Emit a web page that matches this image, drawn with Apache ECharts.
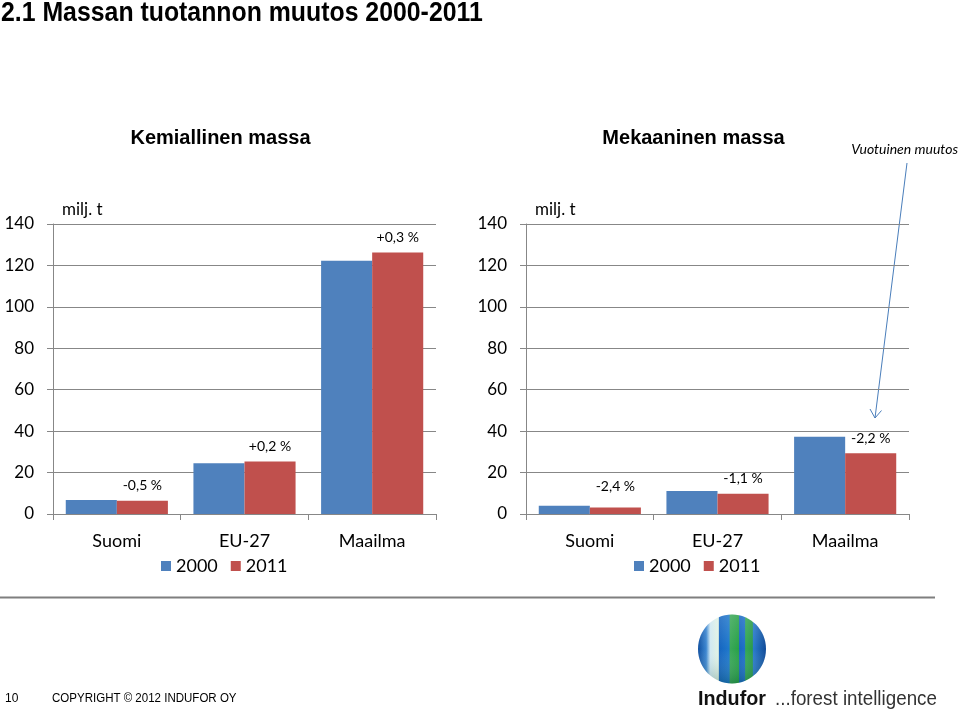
<!DOCTYPE html>
<html><head><meta charset="utf-8">
<script src="https://cdn.jsdelivr.net/npm/echarts@6/dist/echarts.min.js"></script>
<style>html,body{margin:0;padding:0;background:#fff}#c{width:960px;height:710px}</style>
</head><body><div id="c"></div>
<script>
const categories = ['Suomi', 'EU-27', 'Maailma'];
const yTicks = [0, 20, 40, 60, 80, 100, 120, 140];
const chem2000 = [6.8, 24.5, 122.3];
const chem2011 = [6.4, 25.3, 126.2];
const mech2000 = [4.0, 11.1, 37.3];
const mech2011 = [3.1, 9.8, 29.3];
const chemChange = ['-0,5 %', '+0,2 %', '+0,3 %'];
const mechChange = ['-2,4 %', '-1,1 %', '-2,2 %'];
const seriesNames = ['2000', '2011'];

const BLUE = '#4f81bd', RED = '#c0504d', GRID = '#878787';
const FONT = 'Lato, "Open Sans", sans-serif';

function xAx(gi) {
  return {
    type: 'category', gridIndex: gi, data: categories,
    axisLine: { lineStyle: { color: GRID } },
    axisTick: { show: true, length: 6, lineStyle: { color: GRID } },
    axisLabel: { color: '#000', fontSize: 18, fontFamily: FONT, margin: 18 }
  };
}
function yAx(gi) {
  return {
    type: 'value', gridIndex: gi, min: yTicks[0], max: yTicks[yTicks.length - 1], interval: 20,
    axisLine: { show: true, lineStyle: { color: GRID } },
    axisTick: { show: true, length: 6, lineStyle: { color: GRID } },
    splitLine: { lineStyle: { color: GRID, width: 1 } },
    axisLabel: { color: '#000', fontSize: 17, fontFamily: FONT, margin: 19 }
  };
}
function barSeries(name, gi, vals, color, changes, offsets) {
  const s = {
    name: name, type: 'bar', xAxisIndex: gi, yAxisIndex: gi,
    barGap: '0%', barCategoryGap: '20%',
    itemStyle: { color: color },
    data: vals.map((v, i) => {
      const d = { value: v };
      if (offsets && offsets[i]) d.label = { offset: [0, offsets[i]] };
      return d;
    })
  };
  if (changes) {
    s.label = {
      show: true, position: 'top', distance: 8,
      fontSize: 14, fontFamily: FONT, color: '#000',
      formatter: p => changes[p.dataIndex]
    };
  }
  return s;
}
const legendText = { fontSize: 18, fontFamily: FONT, color: '#000' };

const option = {
  animation: false,
  backgroundColor: '#fff',
  grid: [
    { left: 53, right: 524, top: 224, bottom: 196 },
    { left: 526, right: 51, top: 224, bottom: 196 }
  ],
  xAxis: [xAx(0), xAx(1)],
  yAxis: [yAx(0), yAx(1)],
  legend: [
    { data: seriesNames, left: 156, top: 552, icon: 'rect', itemWidth: 10, itemHeight: 10, itemGap: 13, textStyle: legendText },
    { data: seriesNames, left: 629, top: 552, icon: 'rect', itemWidth: 10, itemHeight: 10, itemGap: 13, textStyle: legendText }
  ],
  series: [
    barSeries(seriesNames[0], 0, chem2000, BLUE),
    barSeries(seriesNames[1], 0, chem2011, RED, chemChange),
    barSeries(seriesNames[0], 1, mech2000, BLUE),
    barSeries(seriesNames[1], 1, mech2011, RED, mechChange, [-6, 0, 0])
  ],
  graphic: [
    { type: 'text', x: 1, y: 14, scaleX: 0.92, style: { text: '2.1 Massan tuotannon muutos 2000-2011', font: 'bold 27px "Liberation Sans", Arial, sans-serif', fill: '#000', verticalAlign: 'middle' } },
    { type: 'text', x: 220.5, y: 138, style: { text: 'Kemiallinen massa', font: 'bold 20px "Liberation Sans", Arial, sans-serif', fill: '#000', align: 'center', verticalAlign: 'middle' } },
    { type: 'text', x: 693.5, y: 138, style: { text: 'Mekaaninen massa', font: 'bold 20px "Liberation Sans", Arial, sans-serif', fill: '#000', align: 'center', verticalAlign: 'middle' } },
    { type: 'text', x: 958, y: 149, style: { text: 'Vuotuinen muutos', font: 'italic 14px Lato, sans-serif', fill: '#000', align: 'right', verticalAlign: 'middle' } },
    { type: 'text', x: 62, y: 210, style: { text: 'milj. t', font: '17px Lato, sans-serif', fill: '#000', verticalAlign: 'middle' } },
    { type: 'text', x: 535, y: 210, style: { text: 'milj. t', font: '17px Lato, sans-serif', fill: '#000', verticalAlign: 'middle' } },
    { type: 'line', shape: { x1: 907, y1: 163, x2: 875, y2: 418 }, style: { stroke: '#4a7ebb', lineWidth: 1 } },
    { type: 'polyline', shape: { points: [[870, 409], [875, 418], [881.5, 410.5]] }, style: { stroke: '#4a7ebb', lineWidth: 1, fill: null } },
    { type: 'line', shape: { x1: 0, y1: 597.5, x2: 935, y2: 597.5 }, style: { stroke: '#7f7f7f', lineWidth: 2 } },
    { type: 'text', x: 5, y: 699, style: { text: '10', font: '12px "Liberation Sans", Arial, sans-serif', fill: '#000', verticalAlign: 'middle' } },
    { type: 'text', x: 52, y: 699, scaleX: 0.96, style: { text: 'COPYRIGHT © 2012 INDUFOR OY', font: '12px "Liberation Sans", Arial, sans-serif', fill: '#000', verticalAlign: 'middle' } },
    { type: 'ellipse', shape: { cx: 732, cy: 649, rx: 34, ry: 34.5 },
      style: { fill: new echarts.graphic.LinearGradient(0, 0, 1, 0, [
        { offset: 0, color: '#0f4fa0' }, { offset: 0.12, color: '#3c86d0' },
        { offset: 0.18, color: '#cfe8f2' }, { offset: 0.3, color: '#e2f3e4' },
        { offset: 0.31, color: '#1565c0' }, { offset: 0.46, color: '#1f78cc' },
        { offset: 0.47, color: '#3aa857' }, { offset: 0.6, color: '#28a048' },
        { offset: 0.61, color: '#1868c0' }, { offset: 0.69, color: '#1f70c8' },
        { offset: 0.7, color: '#34a853' }, { offset: 0.8, color: '#2a9a4a' },
        { offset: 0.81, color: '#2a7ccc' }, { offset: 1, color: '#0f4a98' }
      ]) } },
    { type: 'ellipse', shape: { cx: 732, cy: 649, rx: 34, ry: 34.5 },
      style: { fill: new echarts.graphic.LinearGradient(0, 0, 0, 1, [
        { offset: 0, color: 'rgba(255,255,255,0.15)' }, { offset: 0.5, color: 'rgba(255,255,255,0)' },
        { offset: 1, color: 'rgba(0,60,40,0.25)' }
      ]) } },
    { type: 'text', x: 698, y: 699, scaleX: 0.94, style: { text: 'Indufor', font: 'bold 21px "Liberation Sans", Arial, sans-serif', fill: '#111', verticalAlign: 'middle' } },
    { type: 'text', x: 775, y: 699, scaleX: 0.895, style: { text: '...forest intelligence', font: '21px "Liberation Sans", Arial, sans-serif', fill: '#333', verticalAlign: 'middle' } }
  ]
};
const chart = echarts.init(document.getElementById('c'), null, { renderer: 'canvas' });
chart.setOption(option);
</script>
</body></html>
